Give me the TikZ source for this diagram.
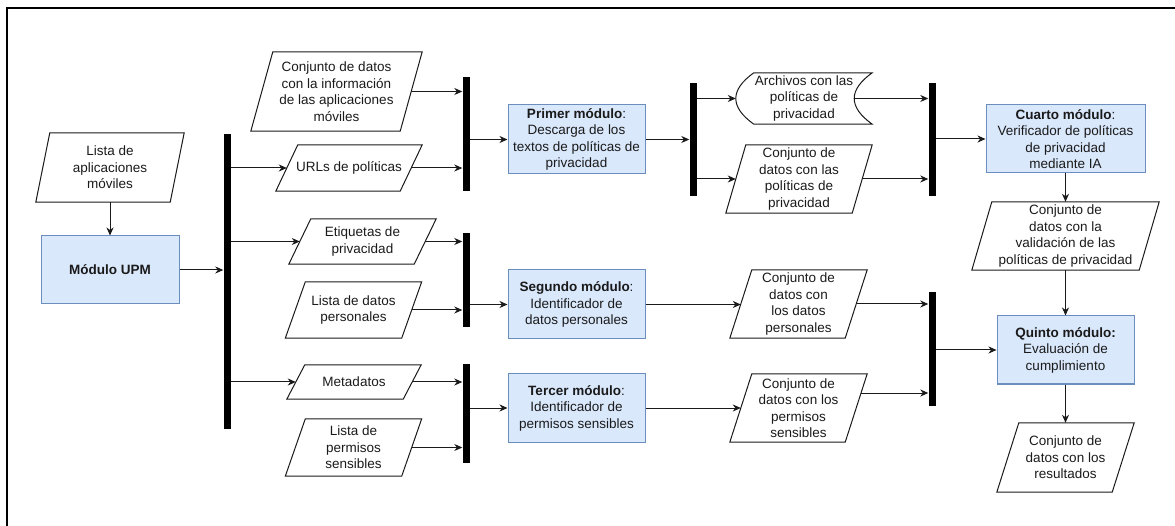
\documentclass[tikz,border=0pt]{standalone}
\usepackage{fontspec}
\setmainfont{Liberation Sans}
\usetikzlibrary{arrows.meta}
\definecolor{bluefill}{HTML}{DAE8FC}
\definecolor{blueline}{HTML}{6C8EBF}
\definecolor{ink}{HTML}{1A1A1A}
\newcommand\mkpara[2]{\draw[shp] ([xshift=-#2pt]#1.south west) -- ([xshift=#2pt]#1.north west) -- ([xshift=#2pt]#1.north east) -- ([xshift=-#2pt]#1.south east) -- cycle;}
\begin{document}
\begin{tikzpicture}[x=1pt,y=-1pt,
  txt/.style={font=\fontsize{13.5}{16.5}\selectfont, text=ink, align=center},
  io/.style={txt, draw=none, inner sep=0pt},
  module/.style={txt, draw=blueline, fill=bluefill, line width=1pt, inner sep=0pt},
  bar/.style={fill=black, draw=none, minimum width=7pt, inner sep=0pt},
  arr/.style={-{Stealth[length=8pt,width=7pt,inset=2.5pt]}, line width=1pt, draw=ink},
  shp/.style={draw=ink, line width=1pt}
]
\useasboundingbox (0,0) rectangle (1175,526);
\draw[line width=1.2pt] (7,526) -- (7,8) -- (1175,8);

% input/output parallelograms
\node[io, minimum width=134pt, minimum height=69pt] (lista) at (110,167.5) {Lista de\\aplicaciones\\móviles};
\node[io, minimum width=149pt, minimum height=79pt] (info) at (336.5,91.5) {Conjunto de datos\\con la información\\de las aplicaciones\\móviles};
\node[io, minimum width=124pt, minimum height=46pt] (urls) at (349,168) {URLs de políticas};
\node[io, minimum width=125pt, minimum height=45pt] (etiq) at (362.5,241.5) {Etiquetas de\\privacidad};
\node[io, minimum width=116pt, minimum height=56pt] (listadp) at (353.5,310) {Lista de datos\\personales};
\node[io, minimum width=116pt, minimum height=34pt] (meta) at (354,382) {Metadatos};
\node[io, minimum width=116pt, minimum height=57pt] (listaps) at (353.5,447.5) {Lista de\\permisos\\sensibles};
\node[io, minimum width=136pt, minimum height=51pt] (archivos) at (804,98.5) {Archivos con las\\políticas de\\privacidad};
\node[io, minimum width=126pt, minimum height=68pt] (conjpol) at (799,179) {Conjunto de\\datos con las\\políticas de\\privacidad};
\node[io, minimum width=167pt, minimum height=68pt] (valid) at (1065.5,236) {Conjunto de\\datos con la\\validación de las\\políticas de privacidad};
\node[io, minimum width=115pt, minimum height=68pt] (cdp) at (798.5,304) {Conjunto de\\datos con\\los datos\\personales};
\node[io, minimum width=115pt, minimum height=68pt] (cps) at (798.5,408) {Conjunto de\\datos con los\\permisos\\sensibles};
\node[io, minimum width=115pt, minimum height=69pt] (result) at (1065.5,457.5) {Conjunto de\\datos con los\\resultados};

\mkpara{lista}{7}
\mkpara{info}{11}
\mkpara{urls}{11}
\mkpara{etiq}{11}
\mkpara{listadp}{10}
\mkpara{meta}{9}
\mkpara{listaps}{10}
\mkpara{conjpol}{10}
\mkpara{valid}{10}
\mkpara{cdp}{11}
\mkpara{cps}{11}
\mkpara{result}{11}

% data storage shape
\draw[shp] ([xshift=18pt]archivos.north west) -- (archivos.north east)
  .. controls ([xshift=-24pt,yshift=8.5pt]archivos.east) and ([xshift=-24pt,yshift=-8.5pt]archivos.east) .. (archivos.south east)
  -- ([xshift=18pt]archivos.south west)
  .. controls ([xshift=-6pt,yshift=-8.5pt]archivos.west) and ([xshift=-6pt,yshift=8.5pt]archivos.west) .. ([xshift=18pt]archivos.north west) -- cycle;

% modules
\node[module, minimum width=138pt, minimum height=68pt] (upm) at (110,270) {\textbf{Módulo UPM}};
\node[module, minimum width=137pt, minimum height=69pt] (primer) at (576.5,139.5) {\textbf{Primer módulo}:\\Descarga de los\\textos de políticas de\\privacidad};
\node[module, minimum width=137pt, minimum height=69pt] (segundo) at (576.5,304.5) {\textbf{Segundo módulo}:\\Identificador de\\datos personales};
\node[module, minimum width=137pt, minimum height=68pt] (tercer) at (576.5,408) {\textbf{Tercer módulo}:\\Identificador de\\permisos sensibles};
\node[module, minimum width=159pt, minimum height=68pt] (cuarto) at (1065.5,139) {\textbf{Cuarto módulo}:\\Verificador de políticas\\de privacidad\\mediante IA};
\node[module, minimum width=137pt, minimum height=68pt] (quinto) at (1065.5,350) {\textbf{Quinto módulo:}\\Evaluación de\\cumplimiento};

% bars
\node[bar, minimum height=295pt] (bar0) at (227,281.5) {};
\node[bar, minimum height=114pt] (bar1) at (466,134) {};
\node[bar, minimum height=94pt] (bar2) at (466,280) {};
\node[bar, minimum height=99pt] (bar3) at (466,413.5) {};
\node[bar, minimum height=113pt] (bar4) at (693,139.5) {};
\node[bar, minimum height=113pt] (bar5) at (932,139.5) {};
\node[bar, minimum height=114pt] (bar6) at (932,349) {};

\coordinate (arcout) at ([xshift=-18pt]archivos.east);
\coordinate (cpsout) at ([shift={(4.9pt,15pt)}]cps.east);

% connectors
\draw[arr] (lista.south) -- (upm.north);
\draw[arr] (upm.east) -- (upm.east -| bar0.west);
\draw[arr] (bar0.east |- urls.west) -- (urls.west);
\draw[arr] (bar0.east |- etiq.west) -- (etiq.west);
\draw[arr] (bar0.east |- meta.west) -- (meta.west);

\draw[arr] (info.east) -- (info.east -| bar1.west);
\draw[arr] (urls.east) -- (urls.east -| bar1.west);
\draw[arr] (bar1.east |- primer.west) -- (primer.west);

\draw[arr] (etiq.east) -- (etiq.east -| bar2.west);
\draw[arr] (listadp.east) -- (listadp.east -| bar2.west);
\draw[arr] (bar2.east |- segundo.west) -- (segundo.west);

\draw[arr] (meta.east) -- (meta.east -| bar3.west);
\draw[arr] (listaps.east) -- (listaps.east -| bar3.west);
\draw[arr] (bar3.east |- tercer.west) -- (tercer.west);

\draw[arr] (primer.east) -- (primer.east -| bar4.west);
\draw[arr] (bar4.east |- archivos.west) -- (archivos.west);
\draw[arr] (bar4.east |- conjpol.west) -- (conjpol.west);

\draw[arr] (arcout) -- (arcout -| bar5.west);
\draw[arr] (conjpol.east) -- (conjpol.east -| bar5.west);
\draw[arr] (bar5.east |- cuarto.west) -- (cuarto.west);

\draw[arr] (cuarto.south) -- (valid.north);
\draw[arr] (valid.south) -- (quinto.north);

\draw[arr] (segundo.east) -- (segundo.east -| cdp.west);
\draw[arr] (tercer.east) -- (tercer.east -| cps.west);
\draw[arr] (cdp.east) -- (cdp.east -| bar6.west);
\draw[arr] (cpsout) -- (cpsout -| bar6.west);
\draw[arr] (bar6.east |- quinto.west) -- (quinto.west);
\draw[arr] (quinto.south) -- (result.north);
\end{tikzpicture}
\end{document}
